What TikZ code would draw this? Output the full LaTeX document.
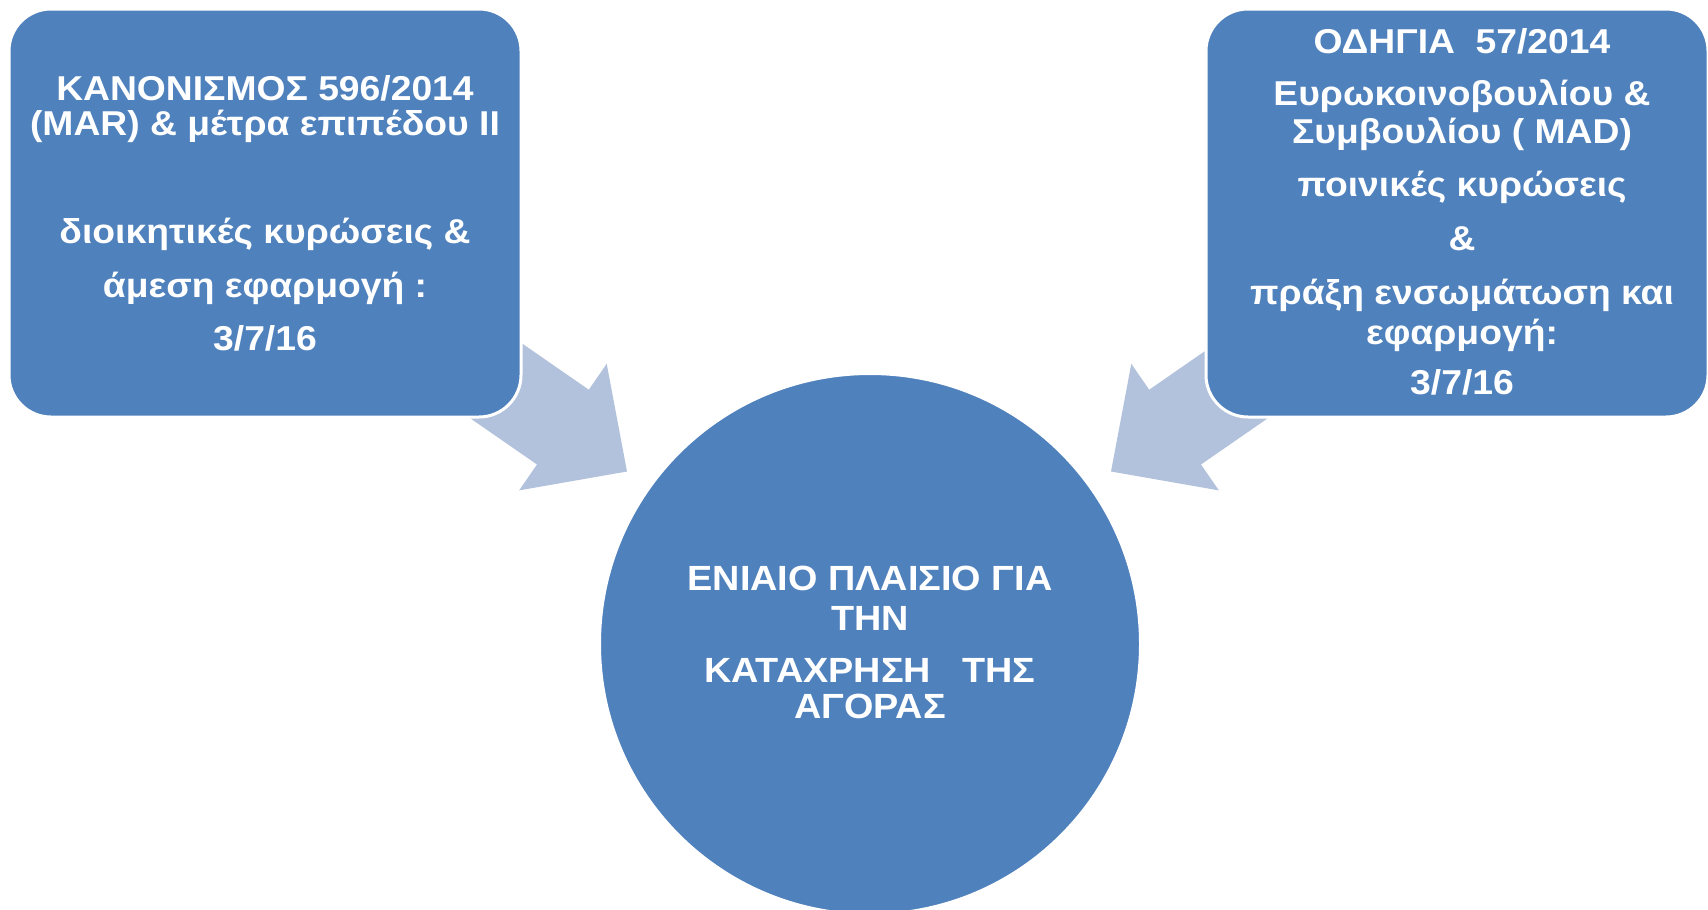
\documentclass[tikz,border=0pt]{standalone}
\usepackage{fontspec}
\setmainfont{Liberation Sans}[FakeStretch=1.08]
\definecolor{boxblue}{HTML}{4F81BD}
\definecolor{arrowblue}{HTML}{B3C2DC}
\begin{document}
\begin{tikzpicture}[x=1pt,y=-1pt,
  blockbox/.style={fill=boxblue,draw=white,line width=3pt,rounded corners=42pt},
  blockarrow/.style={fill=arrowblue,draw=none},
  txt/.style={text=white,font=\fontsize{34.5}{38}\selectfont\bfseries,anchor=base,inner sep=0pt},
  ctxt/.style={text=white,font=\fontsize{35}{38}\selectfont\bfseries,anchor=base,inner sep=0pt}]
\clip (0,0) rectangle (1708,910);
\fill[white] (0,0) rectangle (1708,910);
% left block arrow
\fill[blockarrow] (413.7,379.1) -- (465.5,304.3) -- (588.8,389.7) -- (606.7,363.8)
  -- (627,471.5) -- (519.1,490.4) -- (537.0,464.5) -- cycle;
% right block arrow
\fill[blockarrow] (1324.3,379.1) -- (1272.5,304.3) -- (1149.2,389.7) -- (1131.3,363.8)
  -- (1111,471.5) -- (1218.9,490.4) -- (1201.0,464.5) -- cycle;
% boxes
\draw[blockbox] (9,9) rectangle (521,417);
\draw[blockbox] (1206,9) rectangle (1708,417);
% circle
\node[circle,fill=boxblue,draw=white,line width=2pt,minimum size=540pt,inner sep=0pt] (c) at (870,644) {};
% left text
\node[txt] (l1) at (265,100) {ΚΑΝΟΝΙΣΜΟΣ 596/2014};
\node[txt] (l2) at (265,135) {(MAR) \& μέτρα επιπέδου II};
\node[txt] (l3) at (265,243) {διοικητικές κυρώσεις \&};
\node[txt] (l4) at (265,297) {άμεση εφαρμογή :};
\node[txt] (l5) at (265,350) {3/7/16};
% right text
\node[txt] (r1) at (1462,53) {ΟΔΗΓΙΑ\ \ 57/2014};
\node[txt] (r2) at (1462,105) {Ευρωκοινοβουλίου \&};
\node[txt] (r3) at (1462,143) {Συμβουλίου ( MAD)};
\node[txt] (r4) at (1462,196) {ποινικές κυρώσεις};
\node[txt] (r5) at (1462,250) {\&};
\node[txt] (r6) at (1462,304) {πράξη ενσωμάτωση και};
\node[txt] (r7) at (1462,344) {εφαρμογή:};
\node[txt] (r8) at (1462,394) {3/7/16};
% circle text
\node[ctxt] (c1) at (870,590) {ΕΝΙΑΙΟ ΠΛΑΙΣΙΟ ΓΙΑ};
\node[ctxt] (c2) at (870,630) {ΤΗΝ};
\node[ctxt] (c3) at (870,682) {ΚΑΤΑΧΡΗΣΗ\ \ \ ΤΗΣ};
\node[ctxt] (c4) at (870,718) {ΑΓΟΡΑΣ};
\end{tikzpicture}
\end{document}
